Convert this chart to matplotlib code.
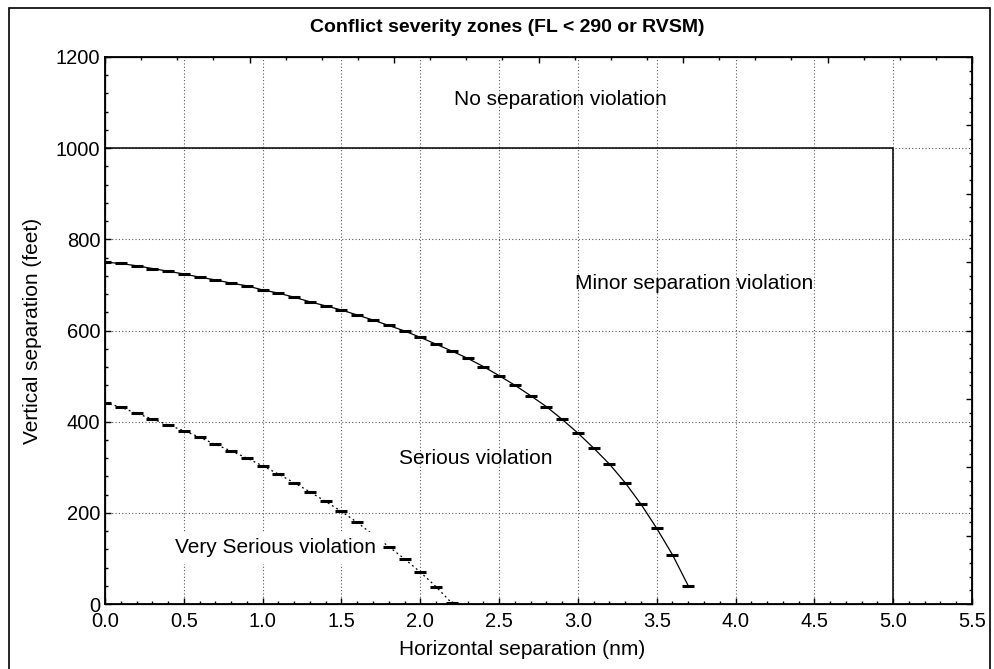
import numpy as np
import matplotlib
matplotlib.use("Agg")
import matplotlib.pyplot as plt
from matplotlib.patches import Rectangle
from matplotlib.ticker import MultipleLocator, NullFormatter

plt.rcParams["font.family"] = ["Liberation Sans", "DejaVu Sans"]

# serious / minor boundary (solid curve), feet vs nm
serious_x = [round(0.1 * i, 1) for i in range(38)]
serious_y = [750, 747, 742, 736, 730, 724, 717, 711, 704, 698,
             689, 682, 673, 663, 654, 645, 634, 623, 611, 599,
             585, 570, 555, 539, 521, 501, 480, 457, 433, 405,
             375, 342, 307, 266, 219, 166, 108, 40]

# very serious / serious boundary (dashed curve)
very_x = [round(0.1 * i, 1) for i in range(23)]
very_y = [442, 432, 418, 406, 393, 380, 366, 350, 336, 320,
          303, 285, 266, 246, 225, 203, 179, 152, 126, 99,
          70, 38, 2]

# no violation / minor violation boundary
limit_x = [0.0, 5.0, 5.0]
limit_y = [1000, 1000, 0]

zone_labels = ["No separation violation", "Minor separation violation",
               "Serious violation", "Very Serious violation"]
zone_pos = [(2.89, 1106), (3.74, 704), (2.35, 320), (1.08, 123)]

W, H = 995, 669
fig = plt.figure(figsize=(W / 100, H / 100), dpi=100)
ax = fig.add_axes([105 / W, 1 - 604 / H, (972 - 105) / W, (604 - 57) / H])

# outer frame of the figure
fig.patches.append(Rectangle((9 / W, -0.02), (990 - 9) / W, 1.02 - 8 / H,
                             transform=fig.transFigure, fill=False,
                             edgecolor="black", linewidth=1.2))

ax.plot(limit_x, limit_y, color="black", lw=1.1, zorder=3)
ax.plot(serious_x, serious_y, color="black", lw=0.9, marker="_",
        markersize=8, markeredgewidth=2.2, zorder=3)
ax.plot(very_x, very_y, color="black", lw=0.9, linestyle=(0, (1.5, 2.5)),
       marker="_", markersize=8, markeredgewidth=2.2, zorder=3)

for label, (x, y) in zip(zone_labels, zone_pos):
    txt = ax.text(x, y, label, ha="center", va="center", fontsize=15, zorder=5)
    if label.startswith("Very"):
        txt.set_bbox(dict(facecolor="white", edgecolor="none", pad=5))

ax.set_xlim(0, 5.5)
ax.set_ylim(0, 1200)
ax.xaxis.set_major_locator(MultipleLocator(0.5))
ax.xaxis.set_minor_locator(MultipleLocator(0.1))
ax.yaxis.set_major_locator(MultipleLocator(200))
ax.yaxis.set_minor_locator(MultipleLocator(40))
ax.xaxis.set_major_formatter(matplotlib.ticker.FormatStrFormatter("%.1f"))
ax.tick_params(which="both", direction="in", labelsize=14.5, top=False, right=False)
ax.tick_params(which="major", length=4, width=1)
ax.tick_params(which="minor", length=2.5, width=1)
ax.tick_params(axis="x", pad=6)
ax.grid(True, which="major", color="0.35", linestyle=(0, (1, 2)), linewidth=0.8)
for s in ax.spines.values():
    s.set_linewidth(1.3)

ax.set_xlabel("Horizontal separation (nm)", fontsize=15)
ax.xaxis.set_label_coords((522 - 105) / (972 - 105), -0.065)
ax.set_ylabel("Vertical separation (feet)", fontsize=15, labelpad=10)
fig.text(507 / W, 1 - 27 / H, "Conflict severity zones (FL < 290 or RVSM)",
         ha="center", va="center", fontsize=14, fontweight="bold")

# unlabelled top and right scales with their own spacing
top = ax.twiny()
top.set_xlim(0, 24)
top.xaxis.set_major_locator(MultipleLocator(4))
top.xaxis.set_minor_locator(MultipleLocator(1))
top.xaxis.set_major_formatter(NullFormatter())
top.tick_params(which="both", direction="in", width=1)
top.tick_params(which="major", length=4)
top.tick_params(which="minor", length=2.5)

right = ax.twinx()
right.set_ylim(0, 40)
right.yaxis.set_major_locator(MultipleLocator(5))
right.yaxis.set_minor_locator(MultipleLocator(1))
right.yaxis.set_major_formatter(NullFormatter())
right.tick_params(which="both", direction="in", width=1)
right.tick_params(which="major", length=4)
right.tick_params(which="minor", length=2.5)

fig.savefig("out.png", dpi=100)
